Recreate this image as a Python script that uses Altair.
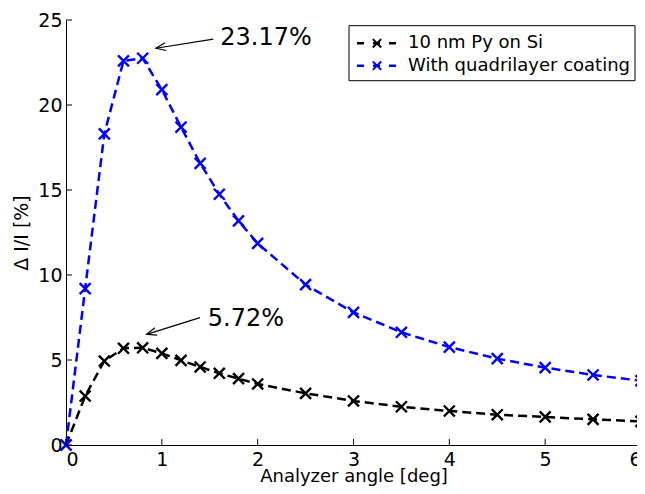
import altair as alt
import pandas as pd

# ---- data ----
angles = [0, 0.2, 0.4, 0.6, 0.8, 1.0, 1.2, 1.4, 1.6, 1.8, 2.0, 2.5, 3.0, 3.5, 4.0, 4.5, 5.0, 5.5, 6.0]
py_on_si = [0.0, 2.88, 4.94, 5.69, 5.72, 5.39, 4.98, 4.59, 4.22, 3.90, 3.59, 3.04, 2.59, 2.25, 2.00, 1.78, 1.65, 1.51, 1.39]
quadrilayer = [0.0, 9.2, 18.3, 22.6, 22.75, 20.9, 18.7, 16.57, 14.75, 13.18, 11.86, 9.43, 7.80, 6.63, 5.76, 5.08, 4.55, 4.12, 3.78]
series_names = ["10 nm Py on Si", "With quadrilayer coating"]
series_colors = ["#000000", "#0000ff"]

x_ticks = [0, 1, 2, 3, 4, 5, 6]
y_ticks = [0, 5, 10, 15, 20, 25]

ann_text = ["23.17%", "5.72%"]
ann_x = [1.61, 1.48]
ann_y = [23.97, 7.42]
arrow_tail_x = [1.537, 1.398]
arrow_tail_y = [23.88, 7.49]
arrow_tip_x = [0.939, 0.842]
arrow_tip_y = [23.34, 6.51]
arrow_angle = [350.8, 342.7]

FONT = "DejaVu Sans"
W, H = 575, 425

df = pd.concat([
    pd.DataFrame({"angle": angles, "value": py_on_si, "series": series_names[0]}),
    pd.DataFrame({"angle": angles, "value": quadrilayer, "series": series_names[1]}),
])
ann = pd.DataFrame({"text": ann_text, "x": ann_x, "y": ann_y})
arrows = pd.DataFrame({"x": arrow_tail_x, "y": arrow_tail_y, "x2": arrow_tip_x,
                       "y2": arrow_tip_y, "ang": arrow_angle})
xt = pd.DataFrame({"t": x_ticks})
yt = pd.DataFrame({"t": y_ticks})
leg = pd.DataFrame({"series": series_names, "row": [0, 1]})

xscale = alt.Scale(domain=[0, 6], range=[0, W], nice=False, zero=False)
yscale = alt.Scale(domain=[0, 25], nice=False)
color = alt.Color("series:N", scale=alt.Scale(domain=series_names, range=series_colors), legend=None)

x_enc = alt.X("angle:Q", scale=xscale, title="Analyzer angle [deg]",
              axis=alt.Axis(values=x_ticks, format="d", grid=False, ticks=False,
                            labelPadding=5, titleY=36, titleBaseline="alphabetic",
                            titleFontSize=18))
y_enc = alt.Y("value:Q", scale=yscale, title="\u0394 I/I [%]",
              axis=alt.Axis(values=y_ticks, format="d", grid=False, ticks=False,
                            labelPadding=4, titlePadding=6))

xmark = "M-1,-1L1,1M-1,1L1,-1"
arrowhead = "M1,-0.4L0,0L1,0.4"

lines = alt.Chart(df).mark_line(strokeDash=[9, 5], strokeWidth=2.5).encode(
    x=x_enc, y=y_enc, color=color, detail="series:N")
points = alt.Chart(df).mark_point(shape=xmark, size=120, strokeWidth=2.4, filled=False, opacity=1).encode(
    x=alt.X("angle:Q", scale=xscale), y=alt.Y("value:Q", scale=yscale), color=color)

yticks = alt.Chart(yt).mark_rule(color="black", strokeWidth=1).encode(
    y=alt.Y("t:Q", scale=yscale), x=alt.value(0), x2=alt.value(6))
xticks = alt.Chart(xt).mark_rule(color="black", strokeWidth=1).encode(
    x=alt.X("t:Q", scale=xscale), y=alt.value(H), y2=alt.value(H - 6))

texts = alt.Chart(ann).mark_text(align="left", baseline="middle", font=FONT, fontSize=24,
                                 color="black").encode(
    x=alt.X("x:Q", scale=xscale), y=alt.Y("y:Q", scale=yscale), text="text:N")
shafts = alt.Chart(arrows).mark_rule(color="black", strokeWidth=1.2).encode(
    x=alt.X("x:Q", scale=xscale), y=alt.Y("y:Q", scale=yscale),
    x2="x2:Q", y2="y2:Q")
heads = alt.Chart(arrows).mark_point(shape=arrowhead, size=380, strokeWidth=1.2, filled=False,
                                     color="black", opacity=1).encode(
    x=alt.X("x2:Q", scale=xscale), y=alt.Y("y2:Q", scale=yscale),
    angle=alt.Angle("ang:Q", scale=None))

# ---- legend box (drawn by hand, MATLAB style) ----
box = alt.Chart(leg).transform_filter("datum.row == 0").mark_rect(
    fill="white", stroke="black", strokeWidth=1).encode(
    x=alt.value(283), x2=alt.value(569), y=alt.value(5.7), y2=alt.value(60.7))

leg_layers = []
for r, ypix in [(0, 23.3), (1, 45.7)]:
    base = alt.Chart(leg).transform_filter(f"datum.row == {r}")
    leg_layers.append(base.mark_rule(strokeDash=[7, 9], strokeWidth=2.5).encode(
        y=alt.value(ypix), x=alt.value(291), x2=alt.value(330), color=color))
    leg_layers.append(base.mark_point(shape=xmark, size=70, strokeWidth=2, filled=False, opacity=1).encode(
        y=alt.value(ypix), x=alt.value(311), color=color))
    leg_layers.append(base.mark_text(align="left", baseline="middle", font=FONT, fontSize=18,
                                     color="black").encode(
        y=alt.value(ypix), x=alt.value(342), text="series:N"))

chart = alt.layer(
    lines, points, yticks, xticks, shafts, heads, texts, box, *leg_layers
).properties(
    width=W - 4, height=H, background="white",
    autosize=alt.AutoSizeParams(type="none"),
    padding={"left": 58, "top": 12, "right": 0, "bottom": 41},
).configure_view(stroke=None).configure_axis(
    domainColor="black", domainWidth=1, labelFont=FONT, labelFontSize=19, labelColor="black",
    titleFont=FONT, titleFontSize=19, titleFontWeight="normal", titleColor="black",
)

chart.save("out.html", embed_options={"renderer": "svg", "actions": False})
